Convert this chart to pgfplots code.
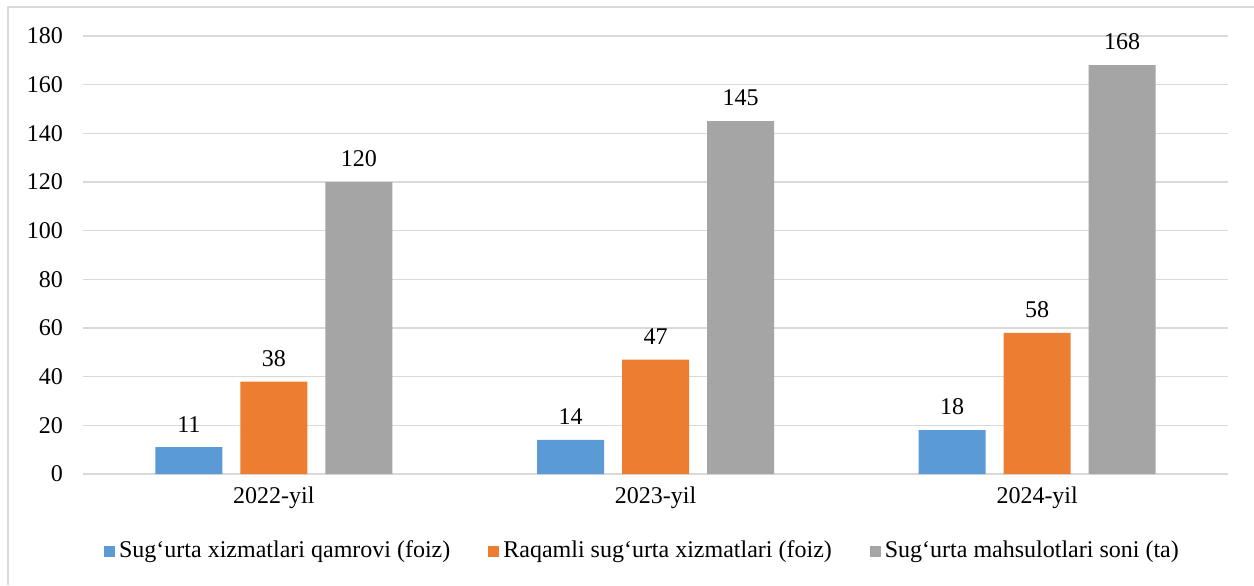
\documentclass[border=0pt]{standalone}
\usepackage{fontspec}
\setmainfont{Liberation Serif}
\usepackage{pgfplots}
\pgfplotsset{compat=1.18}
\definecolor{cblue}{HTML}{5B9BD5}
\definecolor{corange}{HTML}{ED7D31}
\definecolor{cgray}{HTML}{A5A5A5}
\definecolor{cgrid}{HTML}{D9D9D9}
\begin{document}
\begin{tikzpicture}
\useasboundingbox (0,0) rectangle (627pt,292.5pt);
\draw[cgrid, line width=0.8pt] (4pt,0) -- (4pt,289pt) -- (627pt,289pt);
\begin{axis}[
  at={(41.5pt,55.5pt)}, anchor=south west,
  scale only axis, width=572.5pt, height=219pt,
  font=\fontsize{12pt}{14pt}\selectfont,
  /pgf/number format/assume math mode=true,
  xmin=-0.5, xmax=2.5, ymin=0, ymax=180,
  xtick={0,1,2}, xticklabels={2022-yil,2023-yil,2024-yil},
  ytick={0,20,...,180},
  ymajorgrids, grid style={cgrid, line width=0.8pt},
  axis x line*=bottom, axis y line*=left,
  x axis line style={cgrid, line width=0.8pt, -},
  y axis line style={draw=none},
  major tick length=0pt,
  yticklabel style={xshift=-6.5pt},
  xticklabel style={yshift=-3pt},
  ybar, bar width=33.5pt,
  nodes near coords, every node near coord/.append style={yshift=4pt, text=black},
  legend columns=3,
  legend style={draw=none, at={(0.4895,-0.1758)}, anchor=center, font=\fontsize{12pt}{14pt}\selectfont, /tikz/every even column/.append style={column sep=17pt}},
  legend image code/.code={\fill[#1] (0pt,-2.75pt) rectangle (5.5pt,2.75pt);},
  clip=false,
]
\addplot[fill=cblue, draw=none, bar shift=-42.5pt] coordinates {(0,11) (1,14) (2,18)};
\addplot[fill=corange, draw=none, bar shift=0pt] coordinates {(0,38) (1,47) (2,58)};
\addplot[fill=cgray, draw=none, bar shift=42.5pt] coordinates {(0,120) (1,145) (2,168)};
\legend{Sug‘urta xizmatlari qamrovi (foiz), Raqamli sug‘urta xizmatlari (foiz), Sug‘urta mahsulotlari soni (ta)}
\end{axis}
\end{tikzpicture}
\end{document}
